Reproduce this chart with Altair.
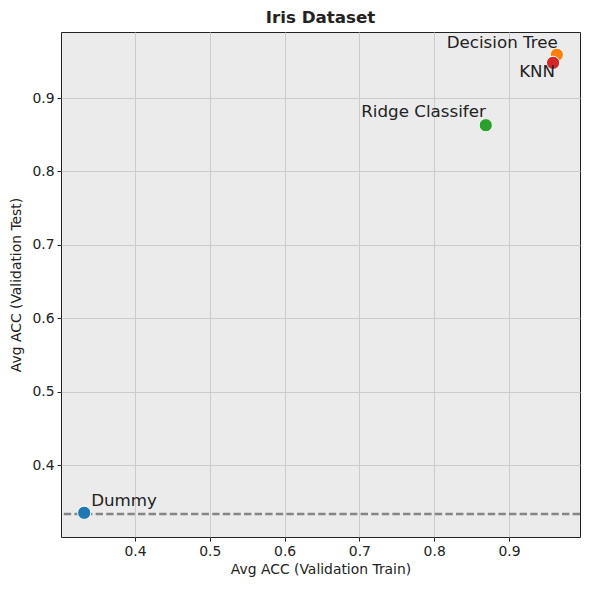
import altair as alt
import pandas as pd

models = ["Dummy", "Decision Tree", "KNN", "Ridge Classifer"]
train_acc = [0.332, 0.964, 0.959, 0.869]
test_acc = [0.335, 0.959, 0.948, 0.863]
colors = ["#1f77b4", "#ff7f0e", "#d62728", "#2ca02c"]
baseline_value = [1 / 3]
x_ticks = [0.4, 0.5, 0.6, 0.7, 0.8, 0.9]
y_ticks = [0.4, 0.5, 0.6, 0.7, 0.8, 0.9]

df = pd.DataFrame({"model": models, "train": train_acc, "test": test_acc, "color": colors})
base_df = pd.DataFrame({"y": baseline_value})

xs = alt.Scale(domain=[0.301, 0.995], nice=False, zero=False)
ys = alt.Scale(domain=[0.302, 0.99], nice=False, zero=False)

xenc = alt.X("train:Q", scale=xs, title="Avg ACC (Validation Train)",
             axis=alt.Axis(values=x_ticks, format=".1f", titlePadding=5))
yenc = alt.Y("test:Q", scale=ys, title="Avg ACC (Validation Test)",
             axis=alt.Axis(values=y_ticks, format=".1f", titlePadding=8))

rule = alt.Chart(base_df).mark_rule(color="#858585", strokeWidth=2.5, strokeDash=[7.4, 3.2]).encode(
    y=alt.Y("y:Q", scale=ys)
)

points = alt.Chart(df).mark_point(filled=True, size=175, stroke="white", strokeWidth=1, opacity=1).encode(
    x=xenc, y=yenc, color=alt.Color("color:N", scale=None)
)

def label(name, align, baseline, dx, dy):
    return alt.Chart(df).transform_filter(alt.datum.model == name).mark_text(
        align=align, baseline=baseline, dx=dx, dy=dy, fontSize=16.7, color="#222222",
        font="DejaVu Sans"
    ).encode(x=alt.X("train:Q", scale=xs), y=alt.Y("test:Q", scale=ys), text="model:N")

labels = [
    label("Dummy", "left", "bottom", 7, -3),
    label("Decision Tree", "right", "bottom", 1, -3),
    label("KNN", "right", "top", 2, 1),
    label("Ridge Classifer", "right", "bottom", 0, -4),
]

chart = alt.layer(rule, points, *labels).properties(
    width=519, height=505,
    title=alt.TitleParams("Iris Dataset", fontSize=16.7, fontWeight="bold", font="DejaVu Sans",
                          color="#222222", offset=5),
    autosize=alt.AutoSizeParams(type="none"),
    padding={"left": 53, "top": 24, "right": 1, "bottom": 45},
).configure_view(
    fill="#ebebeb", stroke="#222222", strokeWidth=1
).configure_axis(
    domain=False, grid=True, gridColor="#cbcbcb", gridWidth=1,
    tickColor="#222222", tickSize=4, labelFont="DejaVu Sans", labelFontSize=13.9,
    labelColor="#222222", titleFont="DejaVu Sans", titleFontSize=13.9, titleFontWeight="normal",
    titleColor="#222222", labelPadding=3
)

chart.save("out.html", embed_options={"renderer": "svg", "actions": False})
